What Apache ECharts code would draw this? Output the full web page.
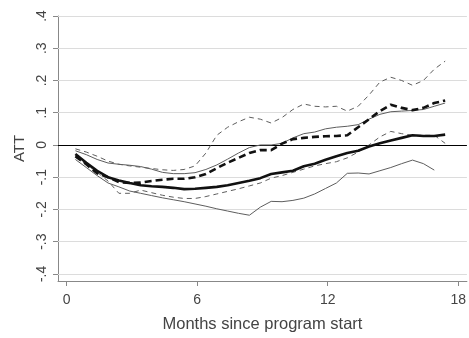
<!DOCTYPE html>
<html>
<head>
<meta charset="utf-8">
<script src="https://cdn.jsdelivr.net/npm/echarts@6/dist/echarts.min.js"></script>
<style>
html,body{margin:0;padding:0;background:#fff;}
#c{width:469px;height:338px;}
</style>
</head>
<body>
<div id="c"></div>
<script>
// Months since program start (shared sample grid)
var months = [0.4,0.9,1.4,1.9,2.4,2.9,3.4,3.9,4.4,4.9,5.4,5.9,6.4,6.9,7.4,7.9,8.4,8.9,9.4,9.9,10.4,10.9,11.4,11.9,12.4,12.9,13.4,13.9,14.4,14.9,15.4,15.9,16.4,16.9,17.4];

// Thick solid estimate
var attSolid = [-0.028,-0.055,-0.08,-0.10,-0.11,-0.118,-0.125,-0.128,-0.13,-0.133,-0.137,-0.136,-0.133,-0.13,-0.125,-0.118,-0.111,-0.103,-0.09,-0.085,-0.08,-0.066,-0.058,-0.046,-0.035,-0.025,-0.018,-0.005,0.005,0.014,0.022,0.03,0.028,0.028,0.032];
// Thin solid upper bound
var solidUpper = [-0.018,-0.03,-0.045,-0.056,-0.06,-0.063,-0.067,-0.075,-0.085,-0.089,-0.089,-0.086,-0.076,-0.062,-0.044,-0.025,-0.008,0,0,0.005,0.022,0.035,0.04,0.05,0.055,0.058,0.063,0.08,0.095,0.103,0.105,0.107,0.11,0.12,0.13];
// Thin solid lower bound
var solidLower = [-0.045,-0.07,-0.095,-0.118,-0.13,-0.143,-0.15,-0.157,-0.164,-0.17,-0.176,-0.183,-0.19,-0.198,-0.205,-0.212,-0.218,-0.193,-0.175,-0.176,-0.172,-0.165,-0.152,-0.135,-0.118,-0.088,-0.087,-0.09,-0.08,-0.07,-0.058,-0.047,-0.058,-0.078,null];
// Thick dashed estimate
var attDashed = [-0.035,-0.06,-0.088,-0.1,-0.115,-0.118,-0.117,-0.112,-0.108,-0.105,-0.105,-0.1,-0.09,-0.072,-0.055,-0.04,-0.025,-0.016,-0.016,0.004,0.018,0.022,0.025,0.027,0.028,0.03,0.055,0.08,0.105,0.125,0.115,0.108,0.115,0.13,0.138];
// Thin dashed upper bound
var dashedUpper = [-0.012,-0.022,-0.035,-0.05,-0.06,-0.065,-0.069,-0.073,-0.077,-0.079,-0.076,-0.065,-0.025,0.03,0.055,0.072,0.086,0.08,0.068,0.085,0.11,0.127,0.12,0.118,0.12,0.105,0.12,0.155,0.195,0.21,0.2,0.185,0.2,0.235,0.26];
// Thin dashed lower bound
var dashedLower = [-0.038,-0.06,-0.085,-0.112,-0.15,-0.15,-0.14,-0.148,-0.156,-0.162,-0.166,-0.166,-0.16,-0.152,-0.144,-0.136,-0.127,-0.118,-0.103,-0.095,-0.085,-0.075,-0.065,-0.058,-0.052,-0.04,-0.022,0.0,0.025,0.042,0.035,0.03,0.03,0.03,0.005];

var xTicks = [0,6,12,18];
var yTicks = [-0.4,-0.3,-0.2,-0.1,0,0.1,0.2,0.3,0.4];
var yTickLabels = ['-.4','-.3','-.2','-.1','0','.1','.2','.3','.4'];

function pairs(vals){ return months.map(function(m,i){ return [m, vals[i]]; }); }

var chart = echarts.init(document.getElementById('c'), null, {renderer:'canvas'});
var font = 'Liberation Sans, Arial, sans-serif';
var thin = function(type){ return {color:'#5e5e5e', width:1, type:type}; };
var thick = function(type){ return {color:'#111', width:2.6, type:type}; };

var gridLines = yTicks.filter(function(t){ return t !== 0; }).map(function(t){
  return {yAxis:t, lineStyle:{color:'#dcdcdc', width:1.2, type:'solid'}};
});
gridLines.push({yAxis:0, lineStyle:{color:'#000', width:1, type:'solid'}});

chart.setOption({
  animation:false,
  backgroundColor:'#fff',
  grid:{left:58, right:0, top:16, bottom:47.3, containLabel:false},
  xAxis:{
    type:'value', min:-0.4, max:18.4,
    name:'Months since program start', nameLocation:'middle', nameGap:35,
    nameTextStyle:{fontFamily:font, fontSize:16.5, color:'#444'},
    axisLine:{show:true, onZero:false, lineStyle:{color:'#888', width:1}},
    axisTick:{show:true, customValues:xTicks, length:5, lineStyle:{color:'#888'}},
    axisLabel:{customValues:xTicks, margin:12, fontFamily:font, fontSize:14, color:'#444'},
    splitLine:{show:false}
  },
  yAxis:{
    type:'value', min:-0.422, max:0.4,
    name:'ATT', nameLocation:'middle', nameGap:31, nameRotate:90,
    nameTextStyle:{fontFamily:font, fontSize:15, color:'#444'},
    axisLine:{show:true, onZero:false, lineStyle:{color:'#888', width:1}},
    axisTick:{show:true, customValues:yTicks, length:5, lineStyle:{color:'#888'}},
    axisLabel:{customValues:yTicks, rotate:90, margin:9, fontFamily:font, fontSize:14, color:'#444',
      formatter:function(v){ var i = yTicks.findIndex(function(t){return Math.abs(t-v)<1e-6;}); return i>=0 ? yTickLabels[i] : ''; }},
    splitLine:{show:false}
  },
  series:[
    {type:'line', data:pairs(solidLower), showSymbol:false, lineStyle:thin('solid'), z:3,
      markLine:{silent:true, symbol:'none', label:{show:false}, z:1, data:gridLines}},
    {type:'line', data:pairs(solidUpper), showSymbol:false, lineStyle:thin('solid'), z:3},
    {type:'line', data:pairs(dashedLower), showSymbol:false, lineStyle:thin([5,4]), z:3},
    {type:'line', data:pairs(dashedUpper), showSymbol:false, lineStyle:thin([5,4]), z:3},
    {type:'line', data:pairs(attDashed), showSymbol:false, lineStyle:thick([7,4]), z:4},
    {type:'line', data:pairs(attSolid), showSymbol:false, lineStyle:thick('solid'), z:5}
  ]
});
</script>
</body>
</html>
